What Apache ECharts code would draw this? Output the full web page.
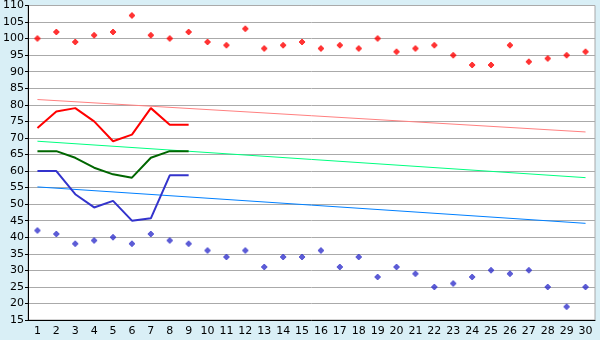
<!DOCTYPE html>
<html>
<head>
<meta charset="utf-8">
<script src="https://cdn.jsdelivr.net/npm/echarts@6/dist/echarts.min.js"></script>
<style>
html,body{margin:0;padding:0;background:#d9eff6;}
#c{width:600px;height:340px;}
</style>
</head>
<body>
<div id="c"></div>
<script>
var categories = ['1','2','3','4','5','6','7','8','9','10','11','12','13','14','15','16','17','18','19','20','21','22','23','24','25','26','27','28','29','30'];
var redPoints = [100,102,99,101,102,107,101,100,102,99,98,103,97,98,99,97,98,97,100,96,97,98,95,92,92,98,93,94,95,96];
var bluePoints = [42,41,38,39,40,38,41,39,38,36,34,36,31,34,34,36,31,34,28,31,29,25,26,28,30,29,30,25,19,25];
var redLine = [73,78,79,75,69,71,79,74,74];
var greenLine = [66,66,64,61,59,58,64,66,66];
var blueLine = [60,60,53,49,51,45,45.7,58.7,58.7];
var redTrend = [['1',81.6],['30',71.8]];
var greenTrend = [['1',69],['30',58]];
var blueTrend = [['1',55.2],['30',44.2]];

var plusPath = 'path://M2,0H4V1H5V2H6V4H5V5H4V6H2V5H1V4H0V2H1V1H2Z';
var font = 'DejaVu Sans';
var chart = echarts.init(document.getElementById('c'), null, {renderer:'canvas'});
chart.setOption({
  animation:false,
  backgroundColor:'#d9eff6',
  grid:{left:26,right:5,top:5,bottom:20,show:true,backgroundColor:'#ffffff',borderColor:'#a8a8a8',borderWidth:1},
  xAxis:{
    type:'category',data:categories,boundaryGap:true,
    axisLine:{lineStyle:{color:'#000',width:1}},
    axisTick:{alignWithLabel:true,length:4,lineStyle:{color:'#000'}},
    axisLabel:{color:'#000',fontFamily:font,fontSize:11,margin:6,interval:0},
    splitLine:{show:false}
  },
  yAxis:{
    type:'value',min:15,max:110,interval:5,
    axisLine:{show:true,lineStyle:{color:'#000',width:1}},
    axisTick:{show:true,length:3,lineStyle:{color:'#000'}},
    axisLabel:{color:'#000',fontFamily:font,fontSize:11,margin:4},
    splitLine:{show:true,lineStyle:{color:'#aaaaaa',width:1}}
  },
  series:[
    {type:'line',data:redTrend,symbol:'none',lineStyle:{color:'#ff8080',width:1},z:2},
    {type:'line',data:greenTrend,symbol:'none',lineStyle:{color:'#00ff80',width:1},z:2},
    {type:'line',data:blueTrend,symbol:'none',lineStyle:{color:'#0080ff',width:1},z:2},
    {type:'line',data:redLine,symbol:'none',lineStyle:{color:'#ff0000',width:2},z:3},
    {type:'line',data:greenLine,symbol:'none',lineStyle:{color:'#006600',width:2},z:3},
    {type:'line',data:blueLine,symbol:'none',lineStyle:{color:'#3333cc',width:2},z:3},
    {type:'scatter',data:redPoints,symbol:plusPath,symbolSize:6,itemStyle:{color:'#ff0000'},z:4},
    {type:'scatter',data:bluePoints,symbol:plusPath,symbolSize:6,itemStyle:{color:'#3333cc'},z:4}
  ]
});
</script>
</body>
</html>
